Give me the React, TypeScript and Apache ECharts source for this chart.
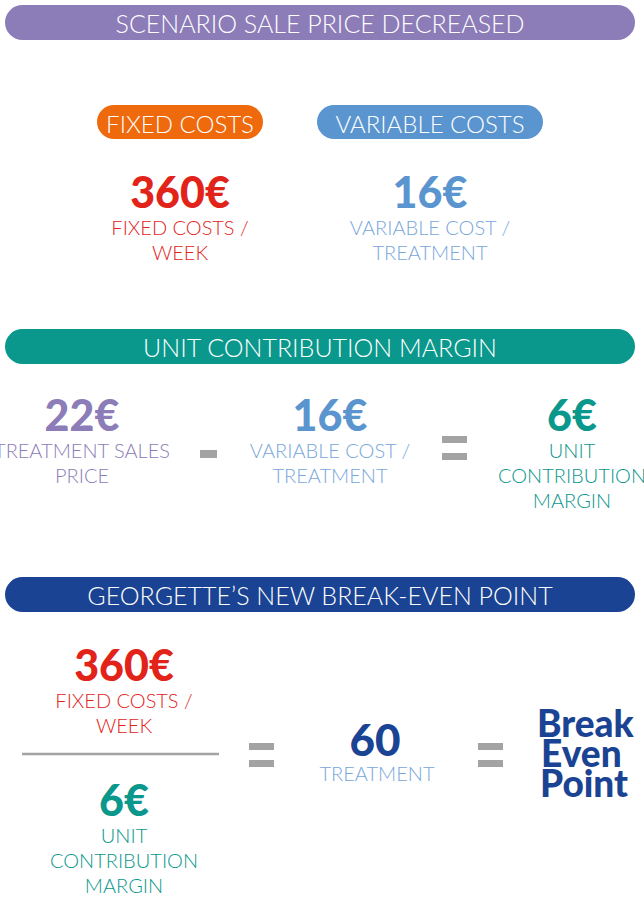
import React, { useEffect, useRef } from "react";
import * as echarts from "echarts";

const W = 644;
const H = 899;

// content
const bannerTitles = ["SCENARIO SALE PRICE DECREASED", "UNIT CONTRIBUTION MARGIN", "GEORGETTE\u2019S NEW BREAK-EVEN POINT"];
const pillTitles = ["FIXED COSTS", "VARIABLE COSTS"];
const fixedCost = 360; // € / week
const variableCost = 16; // € / treatment
const salePrice = 22; // € / treatment
const unitMargin = 6; // €
const breakEven = 60; // treatments
const fixedLabel = ["FIXED COSTS /", "WEEK"];
const variableLabel = ["VARIABLE COST /", "TREATMENT"];
const priceLabel = ["TREATMENT SALES", "PRICE"];
const marginLabel = ["UNIT", "CONTRIBUTION", "MARGIN"];
const breakEvenLabel = ["TREATMENT"];
const breakEvenWords = ["Break", "Even", "Point"];

const C = {
  purple: "#8C7CB8",
  orange: "#EE6A0C",
  blue: "#5A95D0",
  lightBlue: "#78A6DA",
  red: "#E2231A",
  teal: "#0A978C",
  navy: "#1B4393",
  gray: "#A3A3A3",
};

const LIGHT = "Lato, 'Open Sans', sans-serif";
const HEAVY = "Lato, 'Open Sans', sans-serif";

function txt(text: string, x: number, y: number, fill: string, size: number, weight: string | number = 300, align = "center", family = LIGHT) {
  return {
    type: "text",
    x,
    y,
    silent: true,
    style: {
      text,
      fill,
      font: `${weight} ${size}px ${family}`,
      align,
      textAlign: align,
      verticalAlign: "middle",
      textVerticalAlign: "middle",
    },
  };
}

function pill(x: number, y: number, w: number, h: number, fill: string) {
  return { type: "rect", shape: { x, y, width: w, height: h, r: h / 2 }, style: { fill } };
}

function block(value: string, cx: number, cy: number, color: string, labels: string[], labelColor: string, size = 43) {
  const els: any[] = [txt(value, cx, cy, color, size, 900, "center", HEAVY)];
  labels.forEach((l, i) => els.push(txt(l, cx, cy + 36 + i * 25, labelColor, 20, 300)));
  return els;
}

function equals(x: number, y: number) {
  return [
    { type: "rect", shape: { x, y, width: 25, height: 7 }, style: { fill: C.gray } },
    { type: "rect", shape: { x, y: y + 17, width: 25, height: 7 }, style: { fill: C.gray } },
  ];
}

export default function App() {
  const ref = useRef<HTMLDivElement>(null);
  useEffect(() => {
    if (!ref.current) return;
    const chart = echarts.init(ref.current, undefined, { renderer: "svg" });
    const g: any[] = [];
    // Banners
    const bannerColors = [C.purple, C.teal, C.navy];
    const bannerY = [5, 329, 577];
    bannerTitles.forEach((t, i) => {
      g.push(pill(5, bannerY[i], 630, 35, bannerColors[i]));
      g.push(txt(t, 320, bannerY[i] + 18, "#FFFFFF", 25, 300));
    });
    // pills
    g.push(pill(97, 105, 166, 34, C.orange));
    g.push(txt(pillTitles[0], 180, 123, "#FFFFFF", 24, 300));
    g.push(pill(317, 105, 226, 34, C.blue));
    g.push(txt(pillTitles[1], 430, 123, "#FFFFFF", 24, 300));
    // section 1
    g.push(...block(`${fixedCost}\u20AC`, 180, 191, C.red, fixedLabel, C.red));
    g.push(...block(`${variableCost}\u20AC`, 430, 191, C.blue, variableLabel, C.lightBlue));
    // section 2
    g.push(...block(`${salePrice}\u20AC`, 82, 414, C.purple, priceLabel, C.purple));
    g.push({ type: "rect", shape: { x: 200, y: 450, width: 17, height: 8 }, style: { fill: C.gray } });
    g.push(...block(`${variableCost}\u20AC`, 330, 414, C.blue, variableLabel, C.lightBlue));
    g.push(...equals(442, 436));
    g.push(...block(`${unitMargin}\u20AC`, 572, 414, C.teal, marginLabel, C.teal));
    // section 3
    g.push(...block(`${fixedCost}\u20AC`, 124, 664, C.red, fixedLabel, C.red));
    g.push({ type: "line", shape: { x1: 22, y1: 754, x2: 219, y2: 754 }, style: { stroke: C.gray, lineWidth: 2.5 } });
    g.push(...block(`${unitMargin}\u20AC`, 124, 799, C.teal, marginLabel, C.teal));
    g.push(...equals(249, 743));
    g.push(txt(`${breakEven}`, 375, 739, C.navy, 44, 900, "center", HEAVY));
    g.push(txt(breakEvenLabel[0], 377, 773, C.lightBlue, 20, 300));
    g.push(...equals(478, 743));
    const bx = [537, 541, 540];
    breakEvenWords.forEach((w, i) => {
      g.push(txt(w, bx[i], 722 + i * 30, C.navy, 37, 900, "left", HEAVY));
    });

    chart.setOption({ animation: false, graphic: { elements: g } });
    return () => chart.dispose();
  }, []);
  return <div ref={ref} style={{ position: "fixed", left: 0, top: 0, width: W, height: H, background: "#fff" }} />;
}
